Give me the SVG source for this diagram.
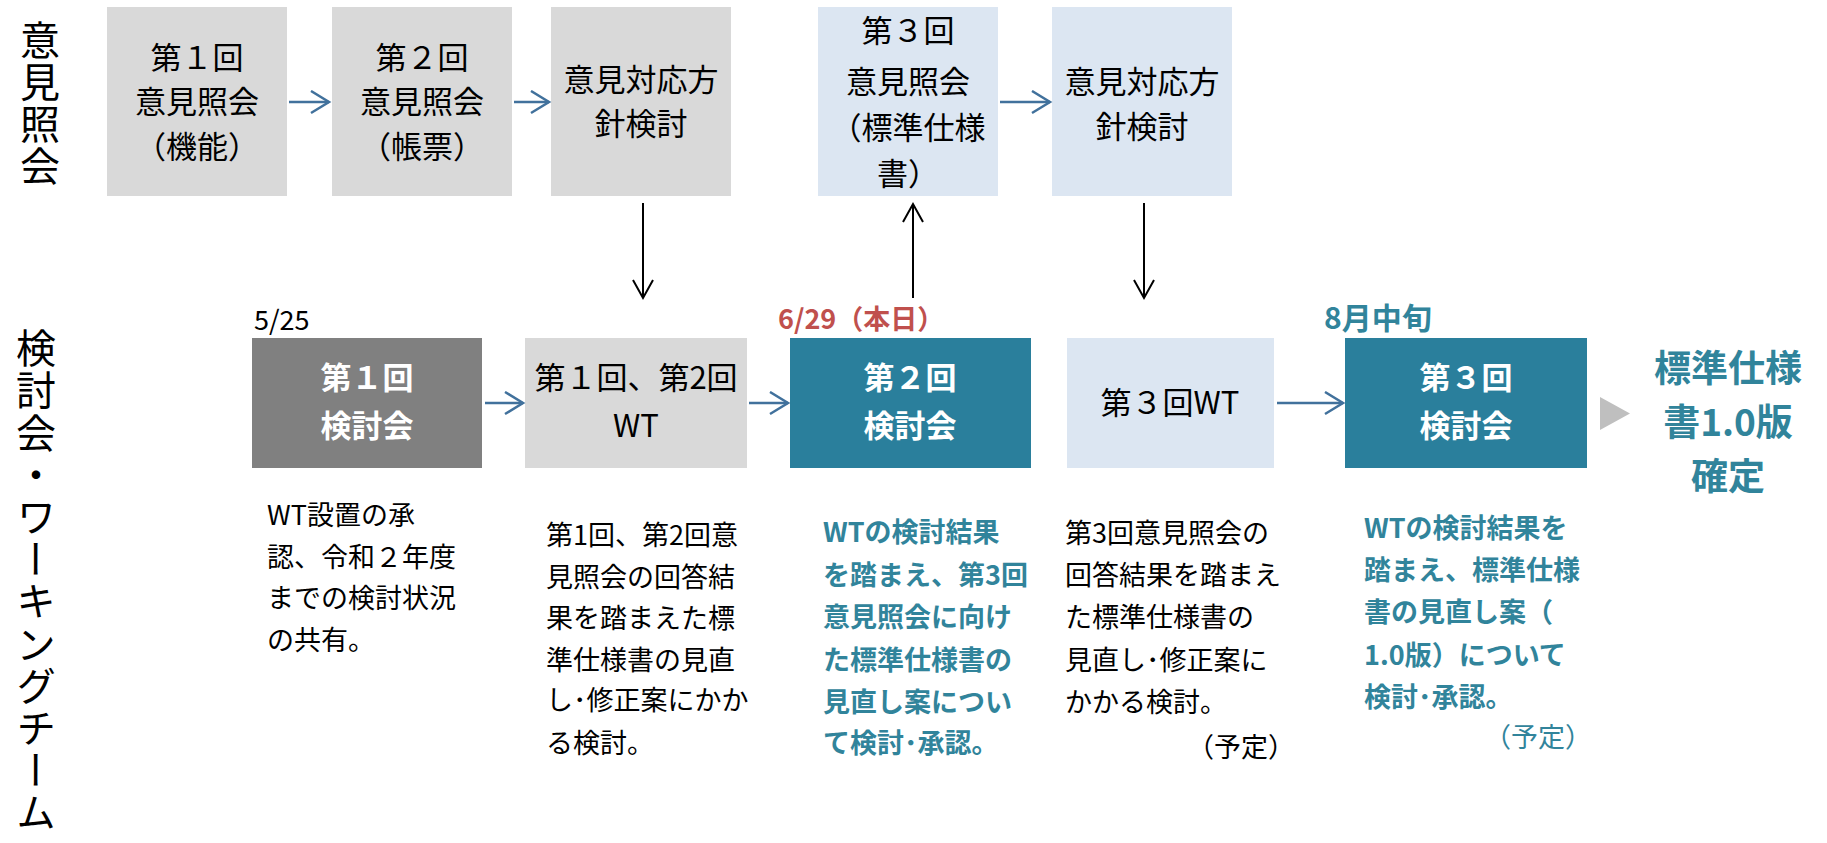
<svg xmlns="http://www.w3.org/2000/svg" width="1827" height="843" viewBox="0 0 1827 843">
<defs>
<style>
text{font-family:"Noto Sans CJK JP","Noto Sans",sans-serif;}
.bx{font-size:31px;text-anchor:middle;fill:#000;}
.bw{font-size:31px;text-anchor:middle;fill:#fff;font-weight:bold;}
.ds{font-size:27px;fill:#000;}
.dt{font-size:27px;fill:#31849B;font-weight:bold;}
.vl{font-size:40px;fill:#000;writing-mode:vertical-rl;}
.gray{fill:#D9D9D9;}
.blue{fill:#DCE6F2;}
.teal{fill:#2A7F9C;}
.dark{fill:#808080;}
.ha{stroke:#41719C;stroke-width:2.5;fill:none;}
.va{stroke:#000;stroke-width:2;fill:none;}
</style>
<marker id="mb" markerUnits="userSpaceOnUse" markerWidth="22" markerHeight="26" refX="19" refY="12" orient="auto" viewBox="0 0 22 26">
<path d="M1,1 L19,12 L1,23" stroke="#41719C" stroke-width="2.5" fill="none"/>
</marker>
<marker id="mk" markerUnits="userSpaceOnUse" markerWidth="22" markerHeight="24" refX="19" refY="11" orient="auto" viewBox="0 0 22 24">
<path d="M1,1 L19,11 L1,21" stroke="#000" stroke-width="2" fill="none"/>
</marker>
</defs>
<rect width="1827" height="843" fill="#fff"/>

<g id="label-ikenshokai">
<text class="vl" x="40" y="20" letter-spacing="2">意見照会</text>
</g>
<g id="label-kentoukai">
<text class="vl" x="36" y="328" letter-spacing="2.2">検討会・ワーキングチーム</text>
</g>

<g id="n1">
<rect class="gray" x="107" y="7" width="180" height="189"/>
<text class="bx" x="197" y="69">第１回</text>
<text class="bx" x="197" y="113">意見照会</text>
<text class="bx" x="197" y="158">（機能）</text>
</g>
<g id="n2">
<rect class="gray" x="332" y="7" width="180" height="189"/>
<text class="bx" x="422" y="69">第２回</text>
<text class="bx" x="422" y="113">意見照会</text>
<text class="bx" x="422" y="158">（帳票）</text>
</g>
<g id="n3">
<rect class="gray" x="551" y="7" width="180" height="189"/>
<text class="bx" x="641" y="91">意見対応方</text>
<text class="bx" x="641" y="135">針検討</text>
</g>
<g id="n4">
<rect class="blue" x="818" y="7" width="180" height="189"/>
<text class="bx" x="908" y="42">第３回</text>
<text class="bx" x="908" y="93">意見照会</text>
<text class="bx" x="908" y="139">（標準仕様</text>
<text class="bx" x="908" y="185">書）</text>
</g>
<g id="n5">
<rect class="blue" x="1052" y="7" width="180" height="189"/>
<text class="bx" x="1142" y="93">意見対応方</text>
<text class="bx" x="1142" y="138">針検討</text>
</g>

<g id="wA">
<text class="ds" x="254" y="330" font-size="28">5/25</text>
<rect class="dark" x="252" y="338" width="230" height="130"/>
<text class="bw" x="367" y="389">第１回</text>
<text class="bw" x="367" y="437">検討会</text>
<text class="ds" x="267" y="525">WT設置の承</text>
<text class="ds" x="267" y="567">認、令和２年度</text>
<text class="ds" x="267" y="608">までの検討状況</text>
<text class="ds" x="267" y="650">の共有。</text>
</g>
<g id="wB">
<rect class="gray" x="525" y="338" width="222" height="130"/>
<text class="bx" x="636" y="389">第１回、第2回</text>
<text class="bx" x="636" y="437">WT</text>
<text class="ds" x="546" y="545" font-size="28">第1回、第2回意</text>
<text class="ds" x="546" y="587" font-size="28">見照会の回答結</text>
<text class="ds" x="546" y="628" font-size="28">果を踏まえた標</text>
<text class="ds" x="546" y="670" font-size="28">準仕様書の見直</text>
<text class="ds" x="546" y="710" font-size="28">し･修正案にかか</text>
<text class="ds" x="546" y="753" font-size="28">る検討。</text>
</g>
<g id="wC">
<text x="778" y="329" font-size="27" font-weight="bold" fill="#C0504D">6/29（本日）</text>
<rect class="teal" x="790" y="338" width="241" height="130"/>
<text class="bw" x="910" y="389">第２回</text>
<text class="bw" x="910" y="437">検討会</text>
<text class="dt" x="823" y="542" font-size="28">WTの検討結果</text>
<text class="dt" x="823" y="585" font-size="28">を踏まえ、第3回</text>
<text class="dt" x="823" y="627" font-size="28">意見照会に向け</text>
<text class="dt" x="823" y="670" font-size="28">た標準仕様書の</text>
<text class="dt" x="823" y="712" font-size="28">見直し案につい</text>
<text class="dt" x="823" y="753" font-size="28">て検討･承認。</text>
</g>
<g id="wD">
<rect class="blue" x="1067" y="338" width="207" height="130"/>
<text class="bx" x="1170" y="414">第３回WT</text>
<text class="ds" x="1065" y="543">第3回意見照会の</text>
<text class="ds" x="1065" y="585">回答結果を踏まえ</text>
<text class="ds" x="1065" y="627">た標準仕様書の</text>
<text class="ds" x="1065" y="670">見直し･修正案に</text>
<text class="ds" x="1065" y="712">かかる検討。</text>
<text class="ds" x="1295" y="757" text-anchor="end">（予定）</text>
</g>
<g id="wE">
<text x="1324" y="329" font-size="30" font-weight="bold" fill="#31849B">8月中旬</text>
<rect class="teal" x="1345" y="338" width="242" height="130"/>
<text class="bw" x="1466" y="389">第３回</text>
<text class="bw" x="1466" y="437">検討会</text>
<text class="dt" x="1364" y="538">WTの検討結果を</text>
<text class="dt" x="1364" y="580">踏まえ、標準仕様</text>
<text class="dt" x="1364" y="622">書の見直し案（</text>
<text class="dt" x="1364" y="665">1.0版）について</text>
<text class="dt" x="1364" y="707">検討･承認。</text>
<text x="1592" y="747" font-size="27" fill="#31849B" text-anchor="end">（予定）</text>
</g>
<g id="final">
<polygon points="1600,397 1630,413.5 1600,430" fill="#BFBFBF"/>
<text x="1728" y="382" font-size="37" font-weight="bold" fill="#31849B" text-anchor="middle">標準仕様</text>
<text x="1728" y="436" font-size="37" font-weight="bold" fill="#31849B" text-anchor="middle">書1.0版</text>
<text x="1728" y="490" font-size="37" font-weight="bold" fill="#31849B" text-anchor="middle">確定</text>
</g>

<g id="connectors">
<line class="ha" x1="289" y1="102" x2="329" y2="102" marker-end="url(#mb)"/>
<line class="ha" x1="514" y1="102" x2="549" y2="102" marker-end="url(#mb)"/>
<line class="ha" x1="1000" y1="102" x2="1050" y2="102" marker-end="url(#mb)"/>
<line class="ha" x1="485" y1="403" x2="523" y2="403" marker-end="url(#mb)"/>
<line class="ha" x1="749" y1="403" x2="788" y2="403" marker-end="url(#mb)"/>
<line class="ha" x1="1277" y1="403" x2="1343" y2="403" marker-end="url(#mb)"/>
<line class="va" x1="643" y1="203" x2="643" y2="298" marker-end="url(#mk)"/>
<line class="va" x1="913" y1="298" x2="913" y2="204" marker-end="url(#mk)"/>
<line class="va" x1="1144" y1="203" x2="1144" y2="298" marker-end="url(#mk)"/>
</g>
</svg>
